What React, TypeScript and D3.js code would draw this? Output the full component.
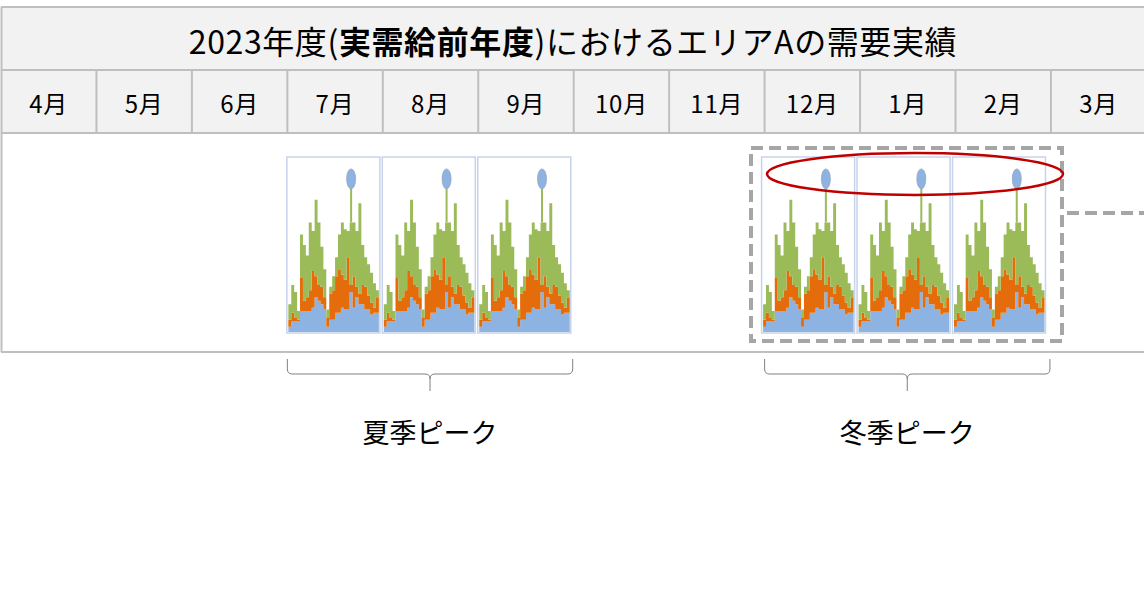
import React from 'react';
import * as d3 from 'd3';

// 2023年度 エリアA 需要実績 (各月のロードカーブ、同じ形を6か月分)
const months = ['4月', '5月', '6月', '7月', '8月', '9月', '10月', '11月', '12月', '1月', '2月', '3月'];
const summerMonths = ['7月', '8月', '9月'];
const winterMonths = ['12月', '1月', '2月'];

// 積み上げ各層の厚み (ベース / ミドル / ピーク)
const baseLoad = [3, 6, 6, 6, 12, 12, 12, 12, 14, 20, 18, 16, 13, 3, 7, 7, 11, 11, 14, 13, 13, 23, 14, 20, 16, 16, 13, 13, 10, 11, 11];
const middleLoad = [4, 5, 2, 1, 19, 6, 8, 12, 21, 12, 9, 10, 7, 5, 15, 17, 21, 25, 19, 17, 30, 4, 18, 6, 6, 11, 13, 8, 7, 3, 9];
const peakLoad = [9, 16, 15, 5, 25, 32, 24, 39, 23, 44, 36, 23, 16, 5, 4, 8, 11, 20, 30, 29, 15, 36, 31, 32, 52, 23, 17, 18, 17, 14, 4];
const peakIndex = 21;
const peakValue = 83;
const peakMarker = 88;

const W = 1144;
const H = 613;
const lineColor = '#bfbfbf';
const font = '"Noto Sans CJK JP", "Noto Sans", sans-serif';

const cellX = d3.scaleLinear().domain([0, months.length]).range([1, 1 + 95.45 * months.length]);

const rows = { top: 7, title: 70, month: 133, bottom: 352 };

function MiniChart({ x0, y0 }: { x0: number; y0: number }) {
  const w = 93;
  const h = 176;
  const n = baseLoad.length;
  const table = baseLoad.map((b, i) => ({ base: b, middle: middleLoad[i], peak: peakLoad[i] }));
  const padded = [...table, table[n - 1]];
  const series = d3.stack<any>().keys(['base', 'middle', 'peak'])(padded);

  const x = d3.scaleLinear().domain([0, n]).range([x0 + 1.5, x0 + w - 1]);
  const y = d3.scaleLinear().domain([0, 100]).range([y0 + h - 1, y0 + 1]);
  const area = d3
    .area<any>()
    .x((d, i) => x(i))
    .y0((d) => y(d[0]))
    .y1((d) => y(d[1]))
    .curve(d3.curveStepAfter);
  const colors = ['#8db3e2', '#e46c0a', '#9bbb59'];

  const px = x(peakIndex + 0.5);
  const top = series[2][peakIndex][1];

  return (
    <g>
      <rect x={x0} y={y0} width={w} height={h} fill="#fff" stroke="#c6d3ea" strokeWidth={1.5} />
      {series.map((s, i) => (
        <path key={i} d={area(s as any) || ''} fill={colors[i]} />
      ))}
      <line x1={px} x2={px} y1={y(top)} y2={y(peakValue)} stroke="#9bbb59" strokeWidth={2} />
      <ellipse cx={px} cy={y(peakMarker)} rx={4.5} ry={10} fill="#8db3e2" stroke="#9aa7bd" strokeWidth={0.8} />
    </g>
  );
}

function Bracket({ x1, x2, label }: { x1: number; x2: number; label: string }) {
  const m = (x1 + x2) / 2;
  const yb = 374;
  const d =
    `M${x1},359 V${yb - 5} Q${x1},${yb} ${x1 + 5},${yb} H${m - 5} Q${m},${yb} ${m},${yb + 5} V391 ` +
    `M${m},${yb + 5} Q${m},${yb} ${m + 5},${yb} H${x2 - 5} Q${x2},${yb} ${x2},${yb - 5} V359`;
  return (
    <g>
      <path d={d} fill="none" stroke="#808080" strokeWidth={1} />
      <text x={m} y={431} textAnchor="middle" dominantBaseline="central" fontSize={27} fontFamily={font} fill="#000">
        {label}
      </text>
    </g>
  );
}

export default function App() {
  const cw = cellX(1) - cellX(0);
  return (
    <svg width={W} height={H} style={{ position: 'absolute', left: 0, top: 0, background: '#fff' }}>
      {/* 表の枠 */}
      <rect x={cellX(0)} y={rows.top} width={W} height={rows.month - rows.top} fill="#f2f2f2" />
      <rect x={cellX(0)} y={rows.month} width={W} height={rows.bottom - rows.month} fill="#fff" />
      {[rows.top, rows.title, rows.month, rows.bottom].map((yy) => (
        <line key={yy} x1={cellX(0)} x2={W} y1={yy} y2={yy} stroke={lineColor} strokeWidth={2} />
      ))}
      <line x1={cellX(0) + 0.5} x2={cellX(0) + 0.5} y1={rows.top} y2={rows.bottom} stroke={lineColor} strokeWidth={2} />
      {months.slice(1).map((m, i) => (
        <line key={m} x1={cellX(i + 1)} x2={cellX(i + 1)} y1={rows.title} y2={rows.month} stroke={lineColor} strokeWidth={2} />
      ))}

      <text x={573} y={40} textAnchor="middle" dominantBaseline="central" fontSize={32} letterSpacing={0.6} fontFamily={font} fill="#000">
        2023年度(<tspan fontWeight="bold">実需給前年度</tspan>)におけるエリアAの需要実績
      </text>
      {months.map((m, i) => (
        <text key={m} x={cellX(i) + cw / 2} y={102} textAnchor="middle" dominantBaseline="central" fontSize={24} letterSpacing={0.8} fontFamily={font} fill="#000">
          {m}
        </text>
      ))}

      {summerMonths.map((m) => (
        <MiniChart key={m} x0={cellX(months.indexOf(m)) - 0.5} y0={157} />
      ))}
      {winterMonths.map((m) => (
        <MiniChart key={m} x0={cellX(months.indexOf(m)) - 3} y0={157} />
      ))}

      {/* 冬季ピークの強調 */}
      <rect x={751} y={148} width={311} height={193} fill="none" stroke="#a6a6a6" strokeWidth={4} strokeDasharray="12 6" />
      <line x1={1067} x2={W} y1={213} y2={213} stroke="#a6a6a6" strokeWidth={4} strokeDasharray="12 6" />
      <ellipse cx={915} cy={174} rx={148} ry={21} fill="none" stroke="#c00000" strokeWidth={2.5} />

      <Bracket x1={cellX(3)} x2={cellX(6) - 1} label="夏季ピーク" />
      <Bracket x1={cellX(8)} x2={cellX(11) - 1} label="冬季ピーク" />
    </svg>
  );
}
